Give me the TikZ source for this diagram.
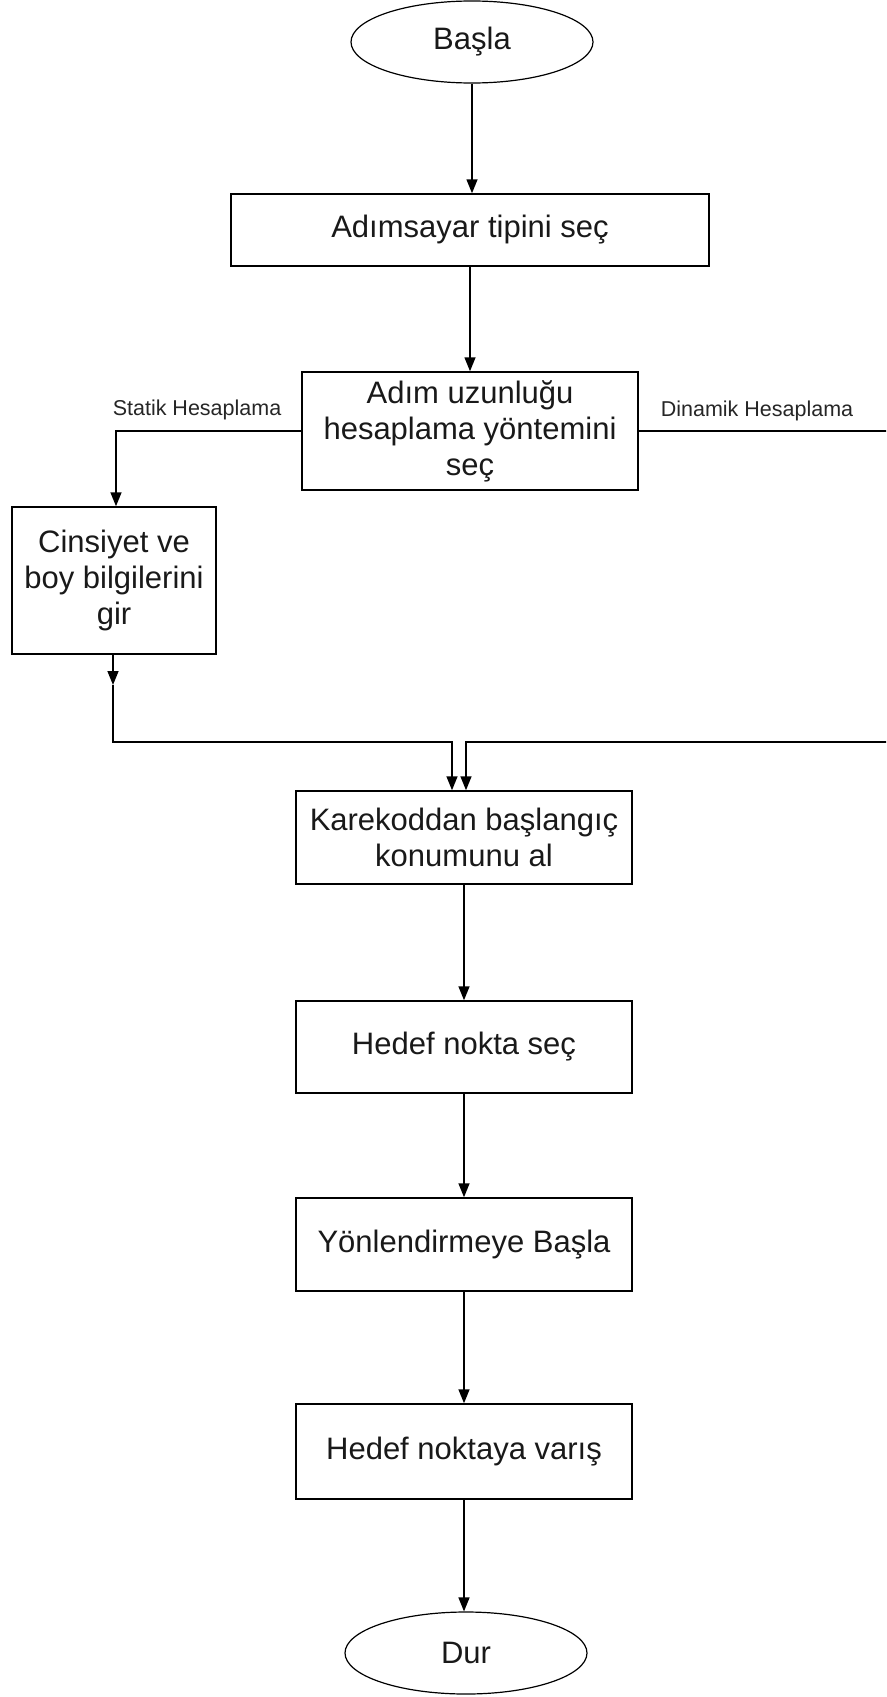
\documentclass[tikz,border=0pt]{standalone}
\usepackage{fontspec}
\setmainfont{Liberation Sans}
\usetikzlibrary{arrows.meta,shapes.geometric}
\tikzset{
  box/.style={draw=black, line width=1.5pt, rectangle, inner sep=0pt, align=center,
    font=\fontsize{31}{36}\selectfont, text=black!90},
  term/.style={draw=black, line width=1.2pt, ellipse, inner sep=0pt,
    minimum width=242pt, minimum height=82pt,
    font=\fontsize{31}{36}\selectfont, text=black!90},
  conn/.style={draw=black, line width=1.5pt},
  arr/.style={conn, -{Triangle[length=14pt,width=11pt]}},
  lbl/.style={font=\fontsize{21.5}{25}\selectfont, text=black!85, inner sep=0pt}
}
\begin{document}
\begin{tikzpicture}[x=1pt,y=-1pt]
\path[use as bounding box] (0,0) rectangle (886,1697);
\clip (0,0) rectangle (886,1697);

\node[term] (basla) at (472,42) {Başla};
\node[box, minimum width=478pt, minimum height=72pt] (tip) at (470,230) {Adımsayar tipini seç};
\node[box, minimum width=336pt, minimum height=118pt] (yontem) at (470,431) {Adım uzunluğu\\hesaplama yöntemini\\seç};
\node[box, minimum width=204pt, minimum height=147pt] (cins) at (114,580.5) {Cinsiyet ve\\boy bilgilerini\\gir};
\node[box, minimum width=336pt, minimum height=93pt] (kare) at (464,837.5) {Karekoddan başlangıç\\konumunu al};
\node[box, minimum width=336pt, minimum height=92pt] (hedef) at (464,1047) {Hedef nokta seç};
\node[box, minimum width=336pt, minimum height=93pt] (yon) at (464,1244.5) {Yönlendirmeye Başla};
\node[box, minimum width=336pt, minimum height=95pt] (varis) at (464,1451.5) {Hedef noktaya varış};
\node[term] (dur) at (466,1653) {Dur};

\node[lbl] (statik) at (197,410) {Statik Hesaplama};
\node[lbl] (dinamik) at (757,411) {Dinamik Hesaplama};

\coordinate (cmid) at (113,685);
\coordinate (lcorner) at (113,742);
\coordinate (m1) at (452,742);
\coordinate (m2) at (466,742);
\coordinate (rtop) at (892,431);
\coordinate (rbot) at (892,742);
\coordinate (lcol) at (116,431);

\draw[arr] (basla.south) -- (basla.south |- tip.north);
\draw[arr] (tip.south) -- (yontem.north);
\draw[arr] (yontem.west) -- (lcol) -- (lcol |- cins.north);
\draw[arr] (yontem.east) -- (rtop) -- (rbot) -- (m2) -- (m2 |- kare.north);
\draw[arr] (cins.south -| cmid) -- (cmid);
\draw[arr] (cmid) -- (lcorner) -- (m1) -- (m1 |- kare.north);
\draw[arr] (kare.south) -- (hedef.north);
\draw[arr] (hedef.south) -- (yon.north);
\draw[arr] (yon.south) -- (varis.north);
\draw[arr] (varis.south) -- (varis.south |- dur.north);
\end{tikzpicture}
\end{document}
